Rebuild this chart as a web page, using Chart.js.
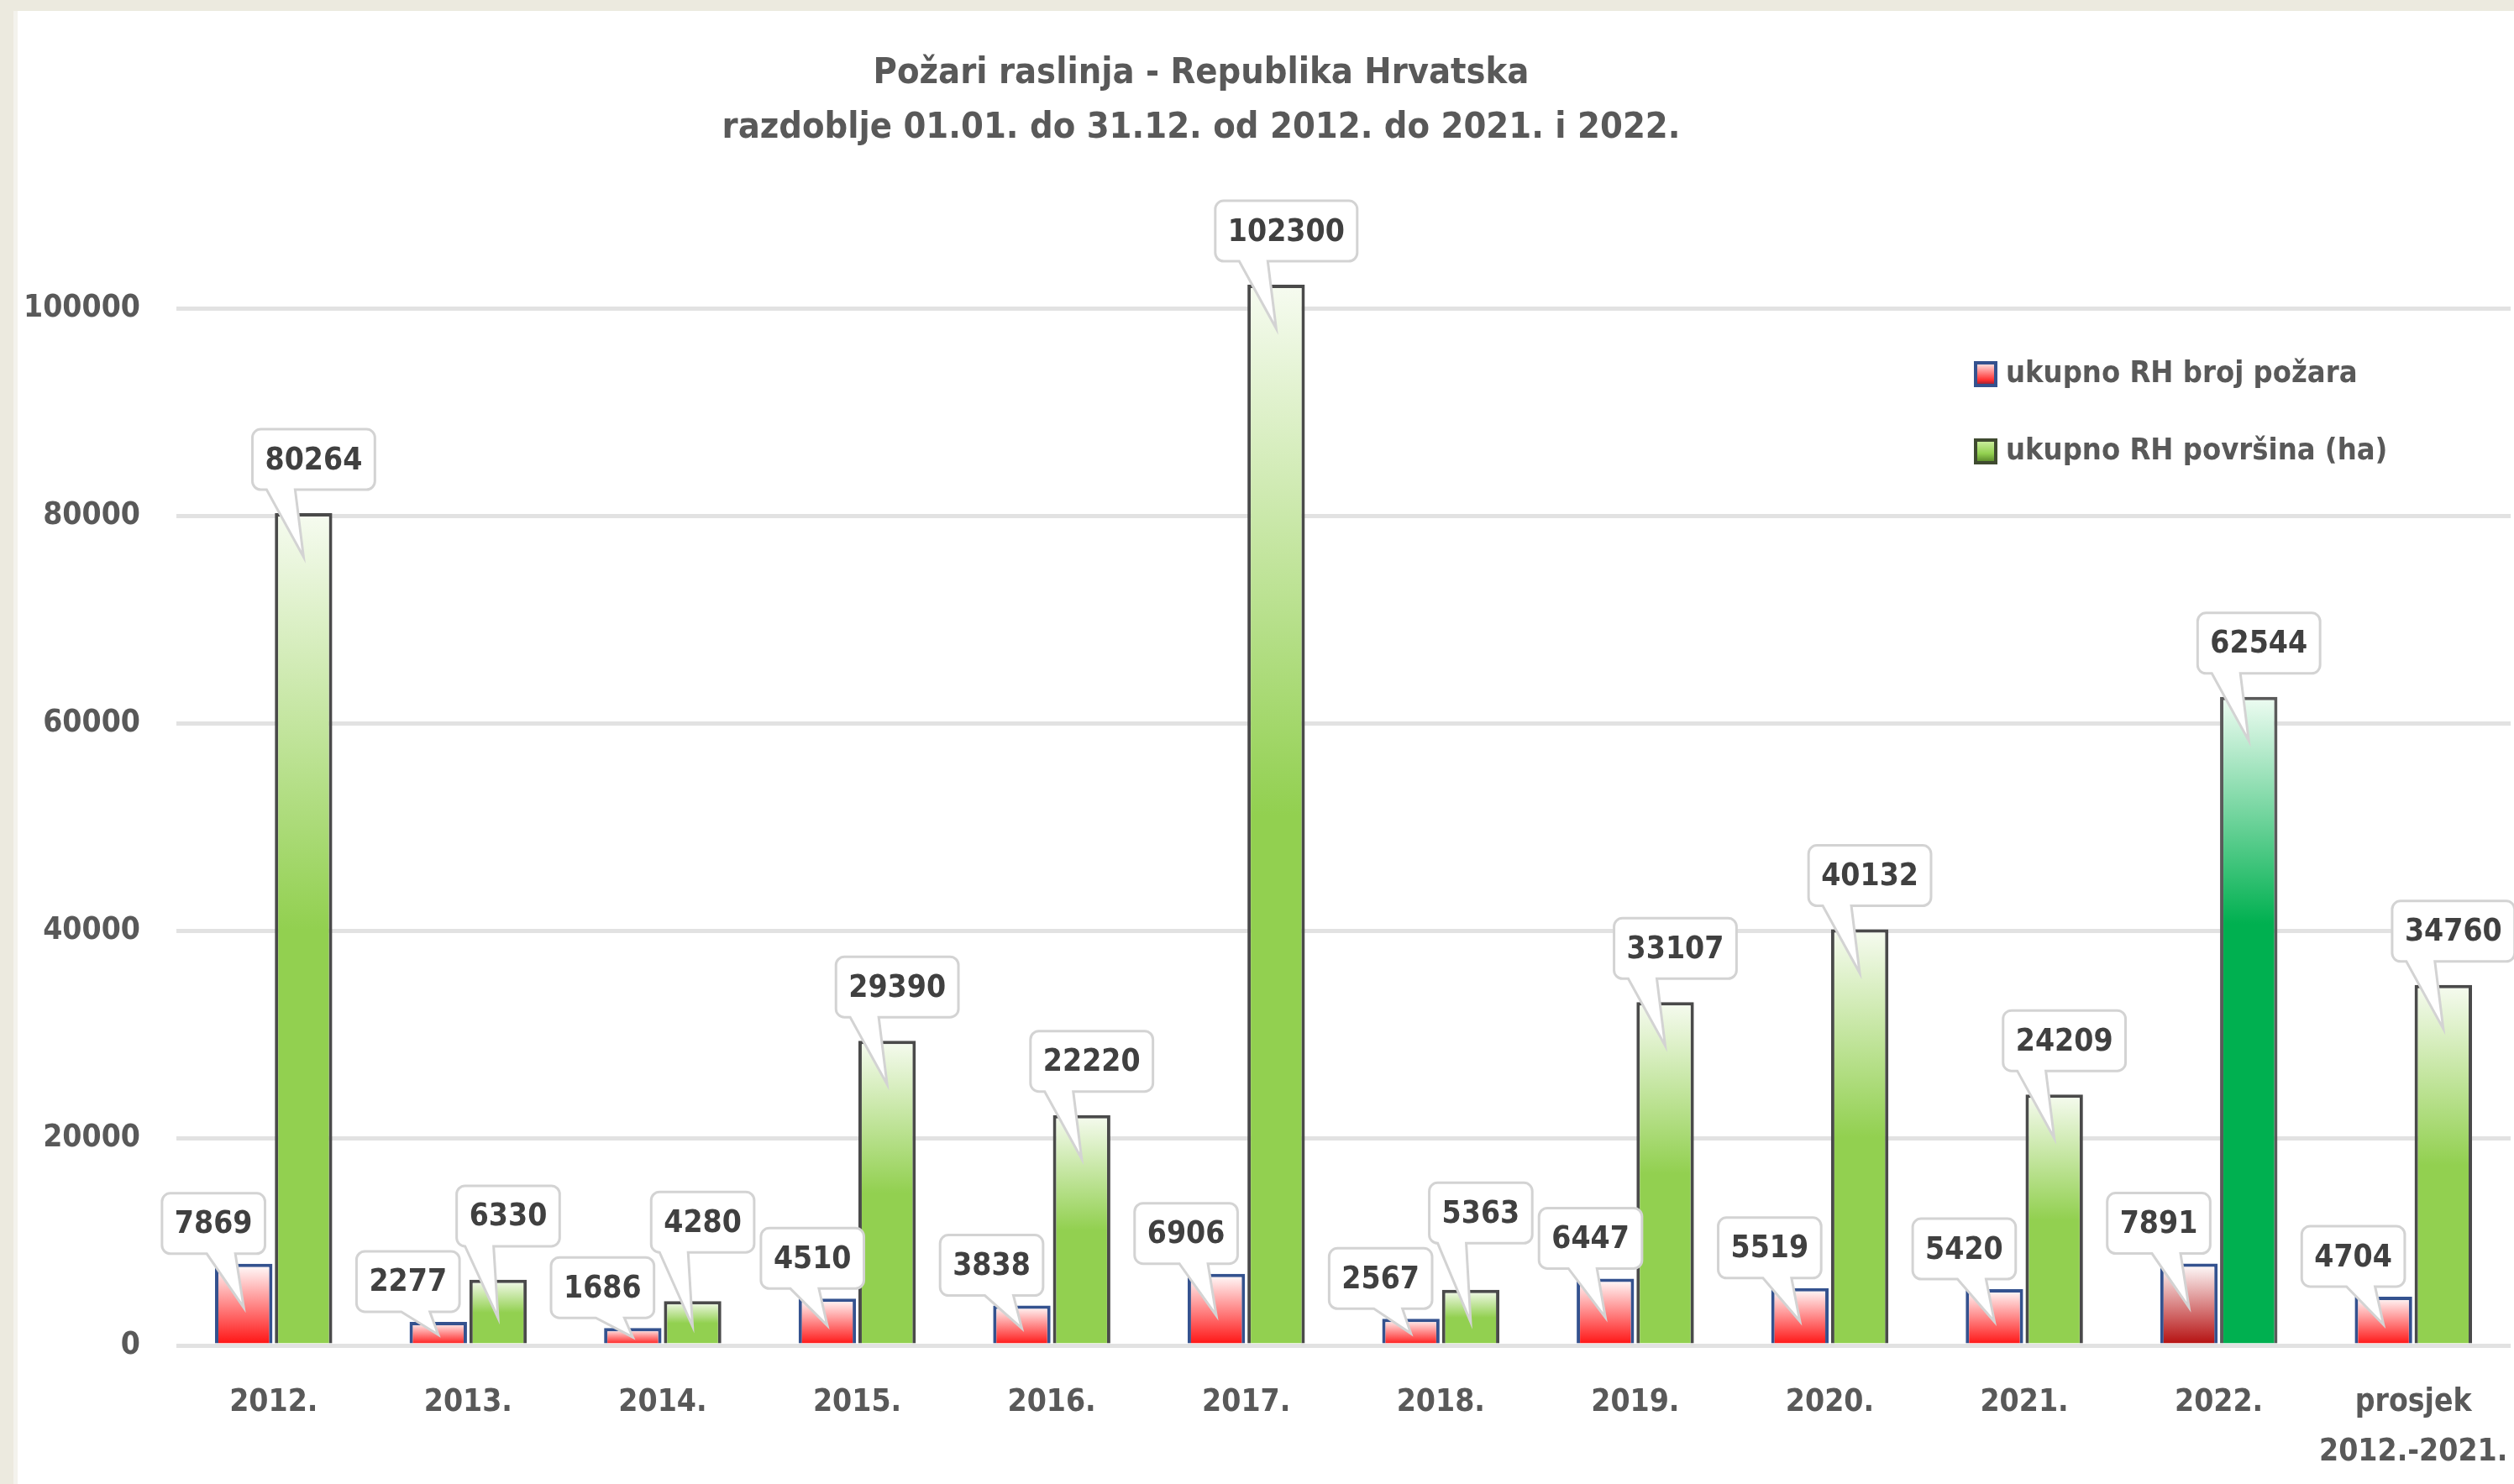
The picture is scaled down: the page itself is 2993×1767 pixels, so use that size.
<!DOCTYPE html>
<html>
<head>
<meta charset="utf-8">
<script src="https://cdn.jsdelivr.net/npm/chart.js@4.4.1/dist/chart.umd.min.js"></script>
<style>
  html, body { margin: 0; padding: 0; background: #eceadf; overflow: hidden; }
  body { width: 2993px; height: 1767px; position: relative; }
  .edge { position: absolute; left: 16px; top: 13px; width: 5px; bottom: 0; background: #f4f3ed; }
  .panel { position: absolute; left: 21px; top: 13px; width: 2972px; height: 1754px; background: #fff; }
</style>
</head>
<body>
<div class="edge"></div>
<div class="panel"><canvas id="chart"></canvas></div>
<script>
// Požari raslinja - Republika Hrvatska
const years = ['2012.', '2013.', '2014.', '2015.', '2016.', '2017.', '2018.', '2019.', '2020.', '2021.', '2022.', ['prosjek', '2012.-2021.']];
const fireCount = [7869, 2277, 1686, 4510, 3838, 6906, 2567, 6447, 5519, 5420, 7891, 4704];
const burntArea = [80264, 6330, 4280, 29390, 22220, 102300, 5363, 33107, 40132, 24209, 62544, 34760];
const yTicks = [0, 20000, 40000, 60000, 80000, 100000];
const seriesNames = ['ukupno RH broj požara', 'ukupno RH površina (ha)'];
const titleLines = ['Požari raslinja - Republika Hrvatska', 'razdoblje 01.01. do 31.12. od 2012. do 2021. i 2022.'];
const highlightIndex = 10; // 2022. is drawn darker

const FONT = '"DejaVu Sans Condensed", "DejaVu Sans", sans-serif';
const TEXT = '#595959';

// vertical gradient from the top of the bar down to the axis
const gradientFor = (c, stops, fallback) => {
  const chart = c.chart;
  if (c.type !== 'data' || !chart.chartArea) return fallback;
  const yScale = chart.scales.y;
  const top = yScale.getPixelForValue(c.raw);
  const base = yScale.getPixelForValue(0);
  if (!isFinite(top) || base - top < 1) return fallback;
  const g = chart.ctx.createLinearGradient(0, top, 0, base);
  stops.forEach(s => g.addColorStop(s[0], s[1]));
  return g;
};

const redFill = c => {
  const deep = c.dataIndex === highlightIndex ? '#b40c0c' : '#ff1010';
  return gradientFor(c, [[0, '#ffffff'], [1, deep]], deep);
};

const greenFill = c => {
  if (c.dataIndex === highlightIndex)
    return gradientFor(c, [[0, '#eefcf2'], [0.35, '#00b050'], [1, '#00b050']], '#00b050');
  return gradientFor(c, [[0, '#f6fbf0'], [0.5, '#92d050'], [1, '#92d050']], '#92d050');
};

function drawCallout(ctx, b) {
  const r = 10;
  const bottom = b.y + b.h;
  const right = Math.min(Math.max(b.tipX - 10, b.x + 44), b.x + b.w - 14);
  const left = right - 34;
  ctx.beginPath();
  ctx.moveTo(b.x + r, b.y);
  ctx.arcTo(b.x + b.w, b.y, b.x + b.w, bottom, r);
  ctx.arcTo(b.x + b.w, bottom, b.x, bottom, r);
  ctx.lineTo(right, bottom);
  ctx.lineTo(b.tipX, b.tipY);
  ctx.lineTo(left, bottom);
  ctx.arcTo(b.x, bottom, b.x, b.y, r);
  ctx.arcTo(b.x, b.y, b.x + b.w, b.y, r);
  ctx.closePath();
  ctx.fillStyle = '#ffffff';
  ctx.fill();
  ctx.lineWidth = 3;
  ctx.strokeStyle = '#d3d3d3';
  ctx.stroke();
  ctx.fillStyle = '#404040';
  ctx.textAlign = 'center';
  ctx.textBaseline = 'middle';
  ctx.fillText(b.text, b.x + b.w / 2, b.y + b.h / 2 + 2);
}

const overlaps = (a, b) => a.x < b.x + b.w && b.x < a.x + a.w && a.y < b.y + b.h && b.y < a.y + a.h;

const calloutPlugin = {
  id: 'callouts',
  afterDatasetsDraw(chart) {
    const ctx = chart.ctx;
    ctx.save();
    ctx.font = 'bold 37px ' + FONT;
    // one row of boxes per dataset
    const rows = chart.data.datasets.map((ds, di) =>
      chart.getDatasetMeta(di).data.map((bar, i) => {
        const text = String(ds.data[i]);
        const w = ctx.measureText(text).width + 30;
        const h = 72;
        const tall = bar.base - bar.y;
        const cx = bar.x + (di === 0 ? -36 : 12);
        const bottom = bar.y - (di === 0 ? 12 : 28);
        return { text, x: cx - w / 2, y: bottom - h, w, h, tipX: bar.x, tipY: bar.y + Math.min(52, tall * 0.6) };
      })
    );
    const red = rows[0], green = rows[1];
    green.forEach((g, i) => {
      // lift above the neighbouring count label of the same year
      if (overlaps(g, red[i])) g.y = red[i].y - g.h - 6;
      // push the next year's count label to the right
      const next = red[i + 1];
      if (next && overlaps(g, next)) {
        next.x = Math.min(g.x + g.w + 8, next.tipX - 30);
      }
    });
    red.forEach(b => drawCallout(ctx, b));
    green.forEach(b => drawCallout(ctx, b));
    ctx.restore();
  }
};

const titlePlugin = {
  id: 'titleLines',
  afterDraw(chart) {
    const ctx = chart.ctx;
    ctx.save();
    ctx.font = 'bold 43px ' + FONT;
    ctx.fillStyle = TEXT;
    ctx.textAlign = 'center';
    ctx.textBaseline = 'middle';
    ctx.fillText(titleLines[0], 1409, 75);
    ctx.fillText(titleLines[1], 1409, 140);
    ctx.restore();
  }
};

const legendPlugin = {
  id: 'sideLegend',
  afterDraw(chart) {
    const ctx = chart.ctx;
    const swatches = [
      { border: '#34528f', stops: [[0, '#ffffff'], [0.75, '#ff3030'], [1, '#6a1a3a']] },
      { border: '#3f4a30', stops: [[0, '#d8f4b0'], [0.6, '#92d050'], [1, '#4e7a22']] }
    ];
    ctx.save();
    ctx.font = 'bold 36px ' + FONT;
    ctx.textBaseline = 'middle';
    ctx.textAlign = 'left';
    seriesNames.forEach((name, k) => {
      const y = 432 + k * 92;
      const g = ctx.createLinearGradient(0, y - 15, 0, y + 15);
      swatches[k].stops.forEach(s => g.addColorStop(s[0], s[1]));
      ctx.fillStyle = g;
      ctx.fillRect(2329, y - 15, 28, 31);
      ctx.lineWidth = 4;
      ctx.strokeStyle = swatches[k].border;
      ctx.strokeRect(2331, y - 13, 24, 27);
      ctx.fillStyle = TEXT;
      ctx.fillText(name, 2367, y + 1);
    });
    ctx.restore();
  }
};

new Chart(document.getElementById('chart'), {
  type: 'bar',
  data: {
    labels: years,
    datasets: [
      {
        label: seriesNames[0],
        data: fireCount,
        backgroundColor: redFill,
        borderColor: '#34528f',
        borderWidth: 4
      },
      {
        label: seriesNames[1],
        data: burntArea,
        backgroundColor: greenFill,
        borderColor: c => c.dataIndex === highlightIndex ? '#5a5a5a' : '#4a4a4a',
        borderWidth: 4
      }
    ]
  },
  options: {
    responsive: true,
    maintainAspectRatio: false,
    animation: false,
    layout: { padding: { top: 231, right: 4, left: 0, bottom: 0 } },
    datasets: { bar: { categoryPercentage: 0.615, barPercentage: 0.96 } },
    plugins: {
      legend: { display: false },
      tooltip: { enabled: false }
    },
    scales: {
      x: {
        grid: { display: false },
        border: { display: false },
        ticks: {
          color: TEXT,
          padding: 31,
          maxRotation: 0,
          autoSkip: false,
          font: { family: FONT, size: 37, weight: 'bold', lineHeight: 1.6 }
        },
        afterFit: s => { s.height = 165; s.paddingLeft = 0; s.paddingRight = 0; }
      },
      y: {
        min: 0,
        max: 110000,
        border: { display: false },
        grid: { color: '#e2e2e2', lineWidth: 5, drawTicks: false },
        ticks: {
          autoSkip: false,
          padding: 43,
          color: TEXT,
          font: { family: FONT, size: 37, weight: 'bold' },
          callback: v => String(v)
        },
        afterBuildTicks: s => { s.ticks = yTicks.map(v => ({ value: v })); },
        afterFit: s => { s.width = 189; s.paddingTop = 0; s.paddingBottom = 0; }
      }
    }
  },
  plugins: [calloutPlugin, titlePlugin, legendPlugin]
});
</script>
</body>
</html>
